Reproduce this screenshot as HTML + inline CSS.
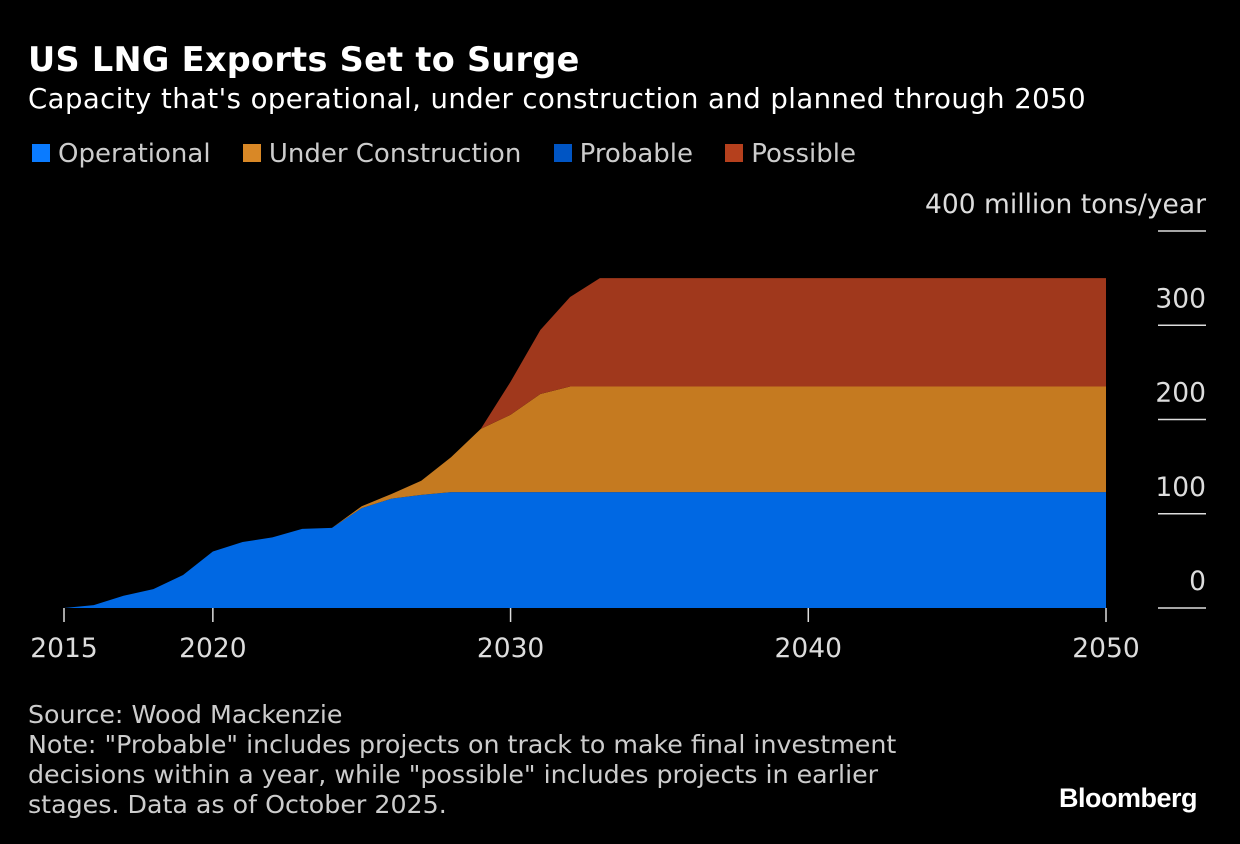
<!DOCTYPE html>
<html><head><meta charset="utf-8"><style>
body{margin:0;background:#000;width:1240px;height:844px;overflow:hidden;font-family:"DejaVu Sans","Liberation Sans",sans-serif;color:#ddd}
.t{position:absolute;white-space:nowrap}
</style></head><body>
<div class="t" style="left:28px;top:40px;font-size:33.5px;font-weight:bold;color:#fff;letter-spacing:0.3px">US LNG Exports Set to Surge</div>
<div class="t" style="left:28px;top:83px;font-size:27.5px;letter-spacing:0.45px;color:#fff">Capacity that's operational, under construction and planned through 2050</div>
<div class="t" style="left:32px;top:139px;font-size:26px;color:#ccc">
<span><span style="display:inline-block;width:18px;height:18px;background:#0a7bff;margin-right:8px"></span>Operational</span>
<span style="margin-left:24px"><span style="display:inline-block;width:18px;height:18px;background:#d98826;margin-right:8px"></span>Under Construction</span>
<span style="margin-left:24px"><span style="display:inline-block;width:18px;height:18px;background:#0055c4;margin-right:8px"></span>Probable</span>
<span style="margin-left:24px"><span style="display:inline-block;width:18px;height:18px;background:#b5401d;margin-right:8px"></span>Possible</span>
</div>
<svg id="chart" width="1240" height="844" style="position:absolute;left:0;top:0"></svg>
<div class="t" style="left:28px;top:700px;font-size:25.3px;line-height:30px;color:#ccc">Source: Wood Mackenzie<br>Note: "Probable" includes projects on track to make final investment<br>decisions within a year, while "possible" includes projects in earlier<br>stages. Data as of October 2025.</div>
<div class="t" style="left:1059px;top:783px;font-size:27px;font-weight:bold;color:#fff;font-family:'Liberation Sans',sans-serif;letter-spacing:-0.5px">Bloomberg</div>
<script>
const years=[2015,2016,2017,2018,2019,2020,2021,2022,2023,2024,2025,2026,2027,2028,2029,2030,2031,2032,2033,2034,2050];
const operational=[0,3,13,20,35,60,70,75,84,85,106,116,120,123,123,123,123,123,123,123,123];
const probable=[0,0,0,0,0,0,0,0,0,0,0,0,0,0,0,0,0,0,0,0,0];
const underConstruction=[0,0,0,0,0,0,0,0,0,0,2,5,15,37,67,82,104,112,112,112,112];
const possible=[0,0,0,0,0,0,0,0,0,0,0,0,0,0,0,35,68,95,115,115,115];
const yTicks=[0,100,200,300,400];
const xTicks=[2015,2020,2030,2040,2050];
const NS="http://www.w3.org/2000/svg";
const svg=document.getElementById('chart');
const x=v=>64+(v-2015)*(1106-64)/35;
const y=v=>608-v*(608-231)/400;
function el(t,a){const e=document.createElementNS(NS,t);for(const k in a)e.setAttribute(k,a[k]);svg.appendChild(e);return e;}
const series=[[operational,'#0068e3','area-operational'],[probable,'#0055c4','area-probable'],[underConstruction,'#c57a20','area-under-construction'],[possible,'#a0381c','area-possible']];
let base=years.map(()=>0);
series.forEach(([vals,col,name])=>{
  const top=base.map((b,i)=>b+vals[i]);
  let d='M'+years.map((yr,i)=>x(yr)+','+y(top[i])).join('L');
  for(let i=years.length-1;i>=0;i--)d+='L'+x(years[i])+','+y(base[i]);
  const p=el('path',{d:d+'Z',fill:col});
  
  
  base=top;
});
yTicks.forEach(v=>{
  const l=el('line',{x1:1158,x2:1206,y1:y(v),y2:y(v),stroke:'#ddd','stroke-width':1.5});
  
  
  const t=el('text',{x:1206,y:y(v)-18,'text-anchor':'end',fill:'#ddd','font-size':26.5});
  t.textContent=v===400?'400 million tons/year':v;
  
  
});
xTicks.forEach(v=>{
  const l=el('line',{x1:x(v),x2:x(v),y1:608,y2:622,stroke:'#ddd','stroke-width':1.5});
  
  
  const t=el('text',{x:x(v),y:657,'text-anchor':'middle',fill:'#ddd','font-size':26.5});
  t.textContent=v;
  
  
});
</script>
</body></html>
